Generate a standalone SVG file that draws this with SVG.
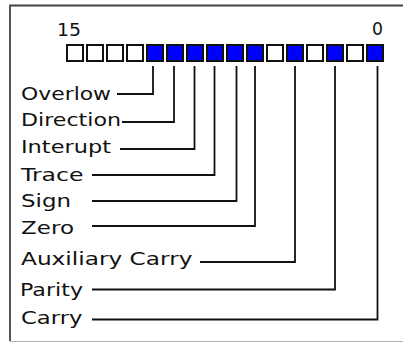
<svg xmlns="http://www.w3.org/2000/svg" width="403" height="342" viewBox="0 0 403 342">
  <style>
    .bit { stroke: #111; stroke-width: 2; }
    .off { fill: #ffffff; }
    .on { fill: #0000ff; }
    .lbl { font-family: "DejaVu Sans", Verdana, sans-serif; font-size: 17.5px; fill: #111; }
    .wire { fill: none; stroke: #111; stroke-width: 1.8; }
  </style>
  <rect x="0" y="0" width="403" height="342" fill="#ffffff"/>
  <!-- frame -->
  <g id="frame" fill="none">
    <path d="M403,5.5 H10 V341" stroke="#444" stroke-width="1.8"/>
    <path d="M10,341.5 H403" stroke="#b0b0b0" stroke-width="1"/>
  </g>
  <!-- bit numbers -->
  <g id="bit-numbers" class="lbl">
    <text x="57" y="36" textLength="24" lengthAdjust="spacingAndGlyphs">15</text>
    <text x="372" y="35" textLength="11" lengthAdjust="spacingAndGlyphs">0</text>
  </g>
  <!-- register bits 15..0 -->
  <g id="register">
    <rect class="bit off" x="67" y="45" width="16" height="16"/>
    <rect class="bit off" x="87" y="45" width="16" height="16"/>
    <rect class="bit off" x="107" y="45" width="16" height="16"/>
    <rect class="bit off" x="127" y="45" width="16" height="16"/>
    <rect class="bit on" x="147" y="45" width="16" height="16"/>
    <rect class="bit on" x="167" y="45" width="16" height="16"/>
    <rect class="bit on" x="187" y="45" width="16" height="16"/>
    <rect class="bit on" x="207" y="45" width="16" height="16"/>
    <rect class="bit on" x="227" y="45" width="16" height="16"/>
    <rect class="bit on" x="247" y="45" width="16" height="16"/>
    <rect class="bit off" x="267" y="45" width="16" height="16"/>
    <rect class="bit on" x="287" y="45" width="16" height="16"/>
    <rect class="bit off" x="307" y="45" width="16" height="16"/>
    <rect class="bit on" x="327" y="45" width="16" height="16"/>
    <rect class="bit off" x="347" y="45" width="16" height="16"/>
    <rect class="bit on" x="367" y="45" width="16" height="16"/>
  </g>
  <!-- flag labels -->
  <g id="overflow" class="lbl"><text x="21" y="100" textLength="90" lengthAdjust="spacingAndGlyphs">Overlow</text></g>
  <g id="direction" class="lbl"><text x="21" y="126" textLength="100" lengthAdjust="spacingAndGlyphs">Direction</text></g>
  <g id="interrupt" class="lbl"><text x="21" y="152.5" textLength="90" lengthAdjust="spacingAndGlyphs">Interupt</text></g>
  <g id="trace" class="lbl"><text x="21" y="180.5" textLength="62.5" lengthAdjust="spacingAndGlyphs">Trace</text></g>
  <g id="sign" class="lbl"><text x="21" y="206.5" textLength="50" lengthAdjust="spacingAndGlyphs">Sign</text></g>
  <g id="zero" class="lbl"><text x="21" y="233.5" textLength="53" lengthAdjust="spacingAndGlyphs">Zero</text></g>
  <g id="aux-carry" class="lbl"><text x="21" y="265" textLength="171.5" lengthAdjust="spacingAndGlyphs">Auxiliary Carry</text></g>
  <g id="parity" class="lbl"><text x="20" y="296" textLength="63" lengthAdjust="spacingAndGlyphs">Parity</text></g>
  <g id="carry" class="lbl"><text x="21" y="323.5" textLength="61.5" lengthAdjust="spacingAndGlyphs">Carry</text></g>
  <!-- leader lines from each flag bit to its label -->
  <g id="connectors" class="wire">
    <path d="M153,66 V94 H117"/>
    <path d="M174,66 V122 H122"/>
    <path d="M194.5,66 V149 H120"/>
    <path d="M214.5,66 V175 H92"/>
    <path d="M236.5,66 V201 H92"/>
    <path d="M255,66 V226 H92"/>
    <path d="M295,66 V262 H200"/>
    <path d="M335,66 V289.5 H92"/>
    <path d="M377.5,66 V319.5 H92"/>
  </g>
</svg>
